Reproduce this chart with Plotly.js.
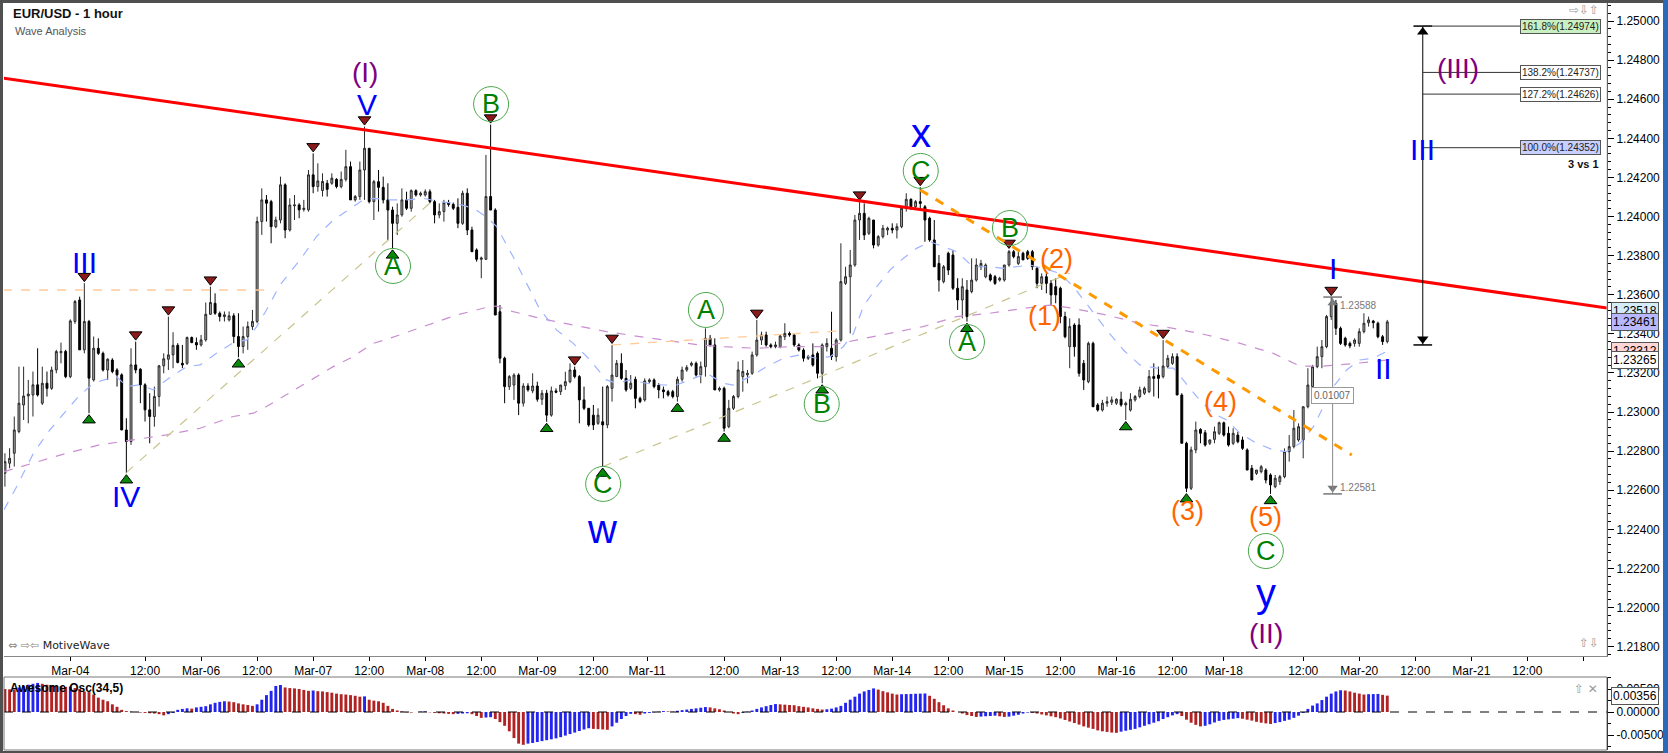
<!DOCTYPE html>
<html><head><meta charset="utf-8">
<script src="https://cdn.plot.ly/plotly-3.0.1.min.js"></script>
<style>html,body{margin:0;padding:0;background:#fff;overflow:hidden}#chart{width:1668px;height:753px}</style>
</head><body><div id="chart"></div>
<script>
// ---------------- DATA ----------------
const openP = [1.22687,1.22738,1.22789,1.22900,1.23036,1.23082,1.23087,1.23139,1.23045,1.23147,
1.23121,1.23215,1.23303,1.23310,1.23181,1.23463,1.23573,1.23318,1.23463,1.23164,
1.23326,1.23300,1.23215,1.23266,1.23215,1.23190,1.22908,1.22849,1.23241,1.23219,
1.23139,1.23011,1.22977,1.23079,1.23236,1.23270,1.23292,1.23341,1.23249,1.23249,
1.23381,1.23355,1.23343,1.23369,1.23500,1.23556,1.23505,1.23488,1.23471,1.23492,
1.23386,1.23335,1.23386,1.23437,1.23463,1.23974,1.24085,1.24076,1.23948,1.23982,
1.24162,1.23931,1.24055,1.24059,1.24036,1.24034,1.24213,1.24153,1.24133,1.24170,
1.24170,1.24190,1.24153,1.24190,1.24255,1.24085,1.24102,1.24238,1.24349,1.24076,
1.24178,1.24149,1.24085,1.24033,1.23965,1.24008,1.24085,1.24042,1.24132,1.24110,
1.24110,1.24127,1.24076,1.24008,1.24025,1.24071,1.24062,1.24047,1.23965,1.24119,
1.23931,1.23829,1.23781,1.23781,1.24102,1.24033,1.23513,1.23275,1.23130,1.23138,
1.23189,1.23045,1.23133,1.23108,1.23133,1.23065,1.23096,1.22984,1.23108,1.23104,
1.23135,1.23155,1.23215,1.23181,1.23062,1.23019,1.22984,1.22942,1.22950,1.22934,
1.23121,1.23181,1.23249,1.23172,1.23121,1.23167,1.23070,1.23062,1.23155,1.23164,
1.23138,1.23113,1.23104,1.23104,1.23079,1.23167,1.23215,1.23240,1.23249,1.23190,
1.23232,1.23377,1.23343,1.23113,1.23121,1.22925,1.23019,1.23079,1.23181,1.23190,
1.23198,1.23292,1.23368,1.23394,1.23343,1.23334,1.23334,1.23385,1.23402,1.23394,
1.23343,1.23317,1.23275,1.23292,1.23300,1.23198,1.23334,1.23326,1.23283,1.23368,
1.23658,1.23692,1.23752,1.23982,1.24016,1.23914,1.23982,1.23854,1.23897,1.23931,
1.23940,1.23931,1.23948,1.24042,1.24088,1.24050,1.24076,1.24050,1.23991,1.23880,
1.23760,1.23667,1.23812,1.23803,1.23633,1.23573,1.23624,1.23616,1.23675,1.23743,
1.23692,1.23701,1.23692,1.23675,1.23675,1.23752,1.23820,1.23760,1.23812,1.23820,
1.23820,1.23735,1.23658,1.23692,1.23658,1.23641,1.23633,1.23488,1.23334,1.23445,
1.23445,1.23249,1.23155,1.23351,1.23036,1.23010,1.23045,1.23050,1.23045,1.23065,
1.23036,1.23010,1.23062,1.23079,1.23096,1.23104,1.23181,1.23189,1.23181,1.23232,
1.23249,1.23283,1.23087,1.22840,1.22610,1.22806,1.22911,1.22894,1.22840,1.22860,
1.22891,1.22945,1.22891,1.22840,1.22882,1.22857,1.22806,1.22712,1.22686,1.22695,
1.22703,1.22678,1.22618,1.22644,1.22669,1.22797,1.22823,1.22857,1.22857,1.23027,
1.23130,1.23232,1.23283,1.23334,1.23488,1.23556,1.23428,1.23377,1.23351,1.23351,
1.23351,1.23411,1.23457,1.23465,1.23454,1.23385,1.23360];
const highP = [1.22789,1.22815,1.22977,1.23232,1.23232,1.23164,1.23207,1.23326,1.23232,1.23207,
1.23232,1.23318,1.23355,1.23318,1.23474,1.23573,1.23590,1.23659,1.23471,1.23386,
1.23377,1.23309,1.23275,1.23275,1.23224,1.23198,1.22968,1.23326,1.23360,1.23224,
1.23147,1.23096,1.23130,1.23241,1.23300,1.23488,1.23408,1.23352,1.23343,1.23386,
1.23386,1.23381,1.23394,1.23560,1.23641,1.23607,1.23514,1.23514,1.23514,1.23505,
1.23505,1.23437,1.23463,1.23522,1.23999,1.24144,1.24110,1.24085,1.23999,1.24204,
1.24170,1.24093,1.24110,1.24068,1.24085,1.24238,1.24323,1.24272,1.24221,1.24187,
1.24221,1.24196,1.24230,1.24341,1.24281,1.24110,1.24281,1.24460,1.24349,1.24187,
1.24238,1.24204,1.24170,1.24050,1.24067,1.24144,1.24127,1.24139,1.24139,1.24127,
1.24139,1.24139,1.24085,1.24067,1.24085,1.24085,1.24071,1.24093,1.24132,1.24144,
1.23948,1.23837,1.23795,1.24315,1.24470,1.24042,1.23547,1.23283,1.23189,1.23198,
1.23198,1.23147,1.23147,1.23198,1.23155,1.23113,1.23113,1.23130,1.23121,1.23138,
1.23206,1.23249,1.23232,1.23189,1.23130,1.23019,1.23036,1.23019,1.23130,1.23138,
1.23343,1.23266,1.23300,1.23215,1.23189,1.23181,1.23079,1.23172,1.23172,1.23172,
1.23147,1.23130,1.23113,1.23113,1.23181,1.23232,1.23240,1.23258,1.23258,1.23258,
1.23428,1.23394,1.23377,1.23130,1.23130,1.23062,1.23087,1.23258,1.23266,1.23215,
1.23309,1.23471,1.23411,1.23411,1.23351,1.23360,1.23394,1.23454,1.23411,1.23402,
1.23351,1.23326,1.23292,1.23351,1.23309,1.23351,1.23377,1.23513,1.23377,1.23863,
1.23743,1.23829,1.24008,1.24076,1.24067,1.23999,1.23982,1.23905,1.23957,1.23948,
1.23965,1.23965,1.24050,1.24119,1.24093,1.24084,1.24150,1.24059,1.23999,1.23982,
1.23803,1.23752,1.23820,1.23829,1.23684,1.23684,1.23675,1.23786,1.23786,1.23778,
1.23760,1.23709,1.23701,1.23692,1.23752,1.23829,1.23829,1.23820,1.23820,1.23829,
1.23829,1.23743,1.23709,1.23709,1.23675,1.23684,1.23641,1.23513,1.23479,1.23454,
1.23479,1.23266,1.23360,1.23360,1.23045,1.23062,1.23079,1.23079,1.23070,1.23104,
1.23053,1.23096,1.23087,1.23130,1.23130,1.23215,1.23249,1.23232,1.23368,1.23292,
1.23300,1.23300,1.23096,1.22848,1.22823,1.22951,1.22917,1.22908,1.22860,1.22925,
1.22951,1.22951,1.22925,1.22917,1.22899,1.22874,1.22814,1.22729,1.22703,1.22729,
1.22712,1.22686,1.22678,1.22678,1.22814,1.22882,1.23010,1.22942,1.23027,1.23224,
1.23241,1.23334,1.23368,1.23496,1.23588,1.23573,1.23437,1.23385,1.23360,1.23377,
1.23428,1.23505,1.23488,1.23471,1.23462,1.23394,1.23471];
const lowP = [1.22618,1.22712,1.22721,1.22891,1.22959,1.22942,1.22977,1.23079,1.23036,1.23079,
1.23113,1.23198,1.23249,1.23173,1.23173,1.23451,1.23318,1.23300,1.22994,1.23156,
1.23292,1.23207,1.23164,1.23198,1.23130,1.22908,1.22687,1.22832,1.23198,1.23045,
1.22951,1.22840,1.22925,1.23028,1.23198,1.23215,1.23224,1.23249,1.23224,1.23241,
1.23352,1.23318,1.23335,1.23360,1.23497,1.23497,1.23463,1.23463,1.23463,1.23352,
1.23280,1.23300,1.23318,1.23420,1.23454,1.23906,1.23974,1.23863,1.23940,1.23965,
1.23889,1.23923,1.23982,1.23991,1.24025,1.24025,1.24119,1.24127,1.24102,1.24102,
1.24162,1.24144,1.24144,1.24179,1.24085,1.24076,1.24085,1.24085,1.24067,1.23982,
1.24025,1.24067,1.23880,1.23837,1.23905,1.23999,1.24033,1.24025,1.24102,1.24102,
1.24102,1.24067,1.23965,1.23991,1.23974,1.24050,1.24033,1.23940,1.23957,1.23905,
1.23820,1.23769,1.23684,1.23778,1.24033,1.23496,1.23249,1.23045,1.23113,1.23062,
1.22984,1.23028,1.23104,1.23096,1.23053,1.23036,1.22950,1.22976,1.23096,1.23087,
1.23113,1.23147,1.23172,1.22942,1.23010,1.22925,1.22908,1.22934,1.22721,1.22917,
1.23053,1.23181,1.23164,1.23104,1.23113,1.23019,1.23045,1.23053,1.23147,1.23121,
1.23070,1.23070,1.23079,1.23070,1.23053,1.23155,1.23206,1.23232,1.23181,1.23147,
1.23181,1.23334,1.23113,1.23104,1.22900,1.22917,1.23010,1.23070,1.23104,1.23147,
1.23190,1.23283,1.23343,1.23334,1.23326,1.23326,1.23326,1.23368,1.23385,1.23334,
1.23309,1.23258,1.23266,1.23232,1.23172,1.23147,1.23309,1.23266,1.23258,1.23360,
1.23650,1.23402,1.23743,1.23880,1.23880,1.23905,1.23837,1.23846,1.23888,1.23905,
1.23914,1.23888,1.23940,1.24025,1.24033,1.24033,1.24033,1.23871,1.23871,1.23743,
1.23616,1.23658,1.23701,1.23624,1.23522,1.23479,1.23462,1.23607,1.23667,1.23726,
1.23684,1.23667,1.23650,1.23667,1.23667,1.23743,1.23786,1.23752,1.23778,1.23778,
1.23726,1.23633,1.23624,1.23607,1.23547,1.23556,1.23454,1.23377,1.23224,1.23283,
1.23181,1.23113,1.23147,1.23027,1.23002,1.23002,1.23027,1.23036,1.23036,1.23027,
1.22959,1.23002,1.23053,1.23070,1.23087,1.23096,1.23079,1.23070,1.23172,1.23224,
1.23241,1.23087,1.22840,1.22590,1.22601,1.22789,1.22840,1.22823,1.22831,1.22840,
1.22882,1.22874,1.22823,1.22831,1.22840,1.22806,1.22703,1.22652,1.22678,1.22686,
1.22635,1.22581,1.22610,1.22627,1.22661,1.22746,1.22814,1.22848,1.22763,1.23019,
1.23121,1.23224,1.23224,1.23326,1.23471,1.23394,1.23343,1.23334,1.23326,1.23334,
1.23334,1.23402,1.23437,1.23428,1.23377,1.23343,1.23351];
const closeP = [1.22746,1.22763,1.22908,1.23045,1.23082,1.23092,1.23139,1.23087,1.23147,1.23121,
1.23215,1.23309,1.23310,1.23181,1.23466,1.23565,1.23318,1.23463,1.23173,1.23326,
1.23300,1.23215,1.23270,1.23207,1.23190,1.22908,1.22849,1.23241,1.23215,1.23139,
1.23011,1.22977,1.23079,1.23236,1.23272,1.23292,1.23341,1.23253,1.23241,1.23381,
1.23355,1.23343,1.23369,1.23500,1.23560,1.23505,1.23488,1.23497,1.23492,1.23386,
1.23335,1.23386,1.23437,1.23463,1.23974,1.24085,1.24068,1.23948,1.23982,1.24162,
1.23931,1.24059,1.24059,1.24034,1.24042,1.24213,1.24153,1.24182,1.24179,1.24139,
1.24196,1.24153,1.24190,1.24255,1.24085,1.24102,1.24238,1.24349,1.24076,1.24178,
1.24149,1.24085,1.24033,1.23965,1.24008,1.24085,1.24042,1.24132,1.24110,1.24119,
1.24127,1.24076,1.24008,1.24025,1.24071,1.24062,1.24042,1.23965,1.24119,1.23931,
1.23820,1.23781,1.23788,1.24102,1.24033,1.23496,1.23275,1.23130,1.23181,1.23189,
1.23045,1.23133,1.23113,1.23133,1.23065,1.23096,1.22984,1.23108,1.23101,1.23138,
1.23155,1.23215,1.23181,1.23062,1.23019,1.22934,1.22934,1.22984,1.22934,1.23130,
1.23189,1.23249,1.23172,1.23113,1.23147,1.23070,1.23053,1.23159,1.23164,1.23130,
1.23113,1.23104,1.23087,1.23079,1.23167,1.23215,1.23228,1.23249,1.23189,1.23232,
1.23377,1.23343,1.23113,1.23121,1.22917,1.23019,1.23079,1.23215,1.23207,1.23198,
1.23292,1.23368,1.23394,1.23343,1.23334,1.23343,1.23389,1.23402,1.23394,1.23343,
1.23317,1.23275,1.23283,1.23240,1.23198,1.23343,1.23351,1.23283,1.23368,1.23667,
1.23692,1.23752,1.23982,1.24016,1.23905,1.23991,1.23854,1.23897,1.23940,1.23940,
1.23931,1.23948,1.24042,1.24088,1.24050,1.24076,1.24067,1.23982,1.23880,1.23743,
1.23675,1.23743,1.23726,1.23633,1.23573,1.23641,1.23488,1.23675,1.23752,1.23760,
1.23752,1.23675,1.23658,1.23684,1.23752,1.23820,1.23795,1.23795,1.23778,1.23786,
1.23743,1.23658,1.23692,1.23658,1.23599,1.23599,1.23488,1.23385,1.23437,1.23334,
1.23198,1.23164,1.23351,1.23027,1.23010,1.23045,1.23053,1.23062,1.23065,1.23036,
1.23045,1.23065,1.23079,1.23113,1.23121,1.23181,1.23172,1.23172,1.23235,1.23275,
1.23283,1.23087,1.22840,1.22610,1.22806,1.22908,1.22891,1.22831,1.22857,1.22899,
1.22945,1.22882,1.22831,1.22891,1.22848,1.22814,1.22703,1.22652,1.22703,1.22720,
1.22652,1.22627,1.22661,1.22669,1.22797,1.22823,1.22917,1.22925,1.23027,1.23138,
1.23232,1.23283,1.23334,1.23488,1.23556,1.23428,1.23351,1.23343,1.23338,1.23368,
1.23411,1.23454,1.23471,1.23457,1.23385,1.23360,1.23461];

// Awesome oscillator (34,5)
const aoValues = [0.00500,0.00493,0.00487,0.00533,0.00567,0.00593,0.00613,0.00633,0.00613,0.00593,
0.00587,0.00573,0.00560,0.00547,0.00553,0.00520,0.00500,0.00447,0.00433,0.00380,
0.00313,0.00267,0.00233,0.00167,0.00113,0.00047,0.00020,0.00007,0.00000,-0.00013,
-0.00020,-0.00027,-0.00033,-0.00047,-0.00073,-0.00047,-0.00020,0.00047,0.00067,0.00080,
0.00073,0.00100,0.00113,0.00127,0.00167,0.00200,0.00220,0.00233,0.00227,0.00213,
0.00187,0.00167,0.00153,0.00133,0.00167,0.00267,0.00367,0.00460,0.00567,0.00587,
0.00533,0.00520,0.00513,0.00500,0.00480,0.00460,0.00467,0.00453,0.00447,0.00433,
0.00420,0.00400,0.00387,0.00380,0.00367,0.00353,0.00333,0.00340,0.00267,0.00247,
0.00233,0.00200,0.00133,0.00067,0.00033,0.00013,-0.00007,-0.00013,0.00000,0.00007,
0.00013,-0.00007,-0.00020,-0.00027,-0.00033,-0.00040,-0.00047,-0.00040,-0.00033,-0.00027,
-0.00047,-0.00087,-0.00127,-0.00120,-0.00113,-0.00153,-0.00220,-0.00300,-0.00420,-0.00567,
-0.00687,-0.00713,-0.00687,-0.00673,-0.00653,-0.00633,-0.00613,-0.00593,-0.00573,-0.00547,
-0.00513,-0.00480,-0.00447,-0.00413,-0.00380,-0.00353,-0.00367,-0.00373,-0.00380,-0.00387,
-0.00313,-0.00233,-0.00153,-0.00087,-0.00040,-0.00047,-0.00060,-0.00033,-0.00020,-0.00007,
0.00007,0.00020,0.00013,0.00007,0.00027,0.00040,0.00053,0.00067,0.00080,0.00093,
0.00107,0.00100,0.00080,0.00060,0.00033,0.00000,-0.00033,-0.00047,-0.00020,0.00007,
0.00033,0.00067,0.00100,0.00127,0.00153,0.00173,0.00167,0.00160,0.00153,0.00147,
0.00127,0.00113,0.00100,0.00080,0.00067,0.00053,0.00060,0.00073,0.00100,0.00133,
0.00200,0.00267,0.00333,0.00400,0.00447,0.00480,0.00513,0.00487,0.00453,0.00427,
0.00400,0.00380,0.00387,0.00390,0.00393,0.00397,0.00400,0.00403,0.00353,0.00287,
0.00213,0.00147,0.00080,0.00033,0.00000,-0.00033,-0.00067,-0.00087,-0.00107,-0.00100,
-0.00093,-0.00087,-0.00080,-0.00093,-0.00107,-0.00100,-0.00080,-0.00060,-0.00033,-0.00013,
-0.00020,-0.00033,-0.00053,-0.00073,-0.00093,-0.00113,-0.00140,-0.00173,-0.00207,-0.00240,
-0.00273,-0.00313,-0.00340,-0.00367,-0.00400,-0.00420,-0.00433,-0.00447,-0.00453,-0.00427,
-0.00407,-0.00387,-0.00367,-0.00333,-0.00300,-0.00267,-0.00233,-0.00200,-0.00153,-0.00113,
-0.00073,-0.00047,-0.00087,-0.00167,-0.00233,-0.00280,-0.00313,-0.00300,-0.00267,-0.00227,
-0.00193,-0.00173,-0.00160,-0.00147,-0.00133,-0.00147,-0.00167,-0.00187,-0.00213,-0.00233,
-0.00247,-0.00260,-0.00240,-0.00220,-0.00193,-0.00167,-0.00127,-0.00080,-0.00020,0.00067,
0.00140,0.00187,0.00260,0.00333,0.00400,0.00447,0.00473,0.00467,0.00447,0.00420,
0.00400,0.00380,0.00387,0.00390,0.00393,0.00373,0.00356];

// moving averages (bar position, value)
const maFastBar = [-0.2,2.5,6.1,9.6,15.4,18.9,22.5,23.9,26.1,28.9,31.8,34.6,38.9,41.8,45.3,48.9,51.8,53.9,56.0,58.9,63.2,66.7,70.3,73.9,76.7,78.9,82.4,86.0,89.6,93.1,96.7,100.3,103.1,105.3,108.8,111.7,114.6,118.1,121.7,125.3,128.8,131.0,133.8,137.4,141.0,143.8,146.7,150.3,153.8,156.0,159.5,163.1,166.7,170.2,173.8,176.7,179.5,181.7,183.8,186.7,189.5,192.4,195.2,198.1,200.9,203.8,207.3,210.9,213.8,216.6,219.5,222.3,225.9,228.8,232.3,235.9,239.5,243.0,246.6,250.2,252.3,255.2,258.7,261.6,264.5,268.0,271.6,274.4,277.3,280.2,282.3,284.5,287.3,290.1,292.9,295.8];
const maFastVal = [1.22500,1.22618,1.22789,1.22908,1.23070,1.23147,1.23173,1.23181,1.23130,1.23139,1.23113,1.23164,1.23232,1.23241,1.23300,1.23355,1.23369,1.23437,1.23522,1.23650,1.23778,1.23897,1.23982,1.24040,1.24085,1.24093,1.24085,1.24085,1.24093,1.24076,1.24067,1.24042,1.23999,1.23948,1.23795,1.23658,1.23522,1.23420,1.23351,1.23266,1.23164,1.23147,1.23164,1.23147,1.23138,1.23138,1.23164,1.23198,1.23147,1.23138,1.23181,1.23232,1.23275,1.23292,1.23275,1.23283,1.23334,1.23402,1.23539,1.23641,1.23726,1.23786,1.23837,1.23871,1.23846,1.23820,1.23743,1.23743,1.23735,1.23743,1.23752,1.23735,1.23709,1.23641,1.23530,1.23420,1.23317,1.23241,1.23224,1.23224,1.23164,1.23079,1.22993,1.22959,1.22891,1.22840,1.22806,1.22797,1.22840,1.22925,1.23027,1.23130,1.23215,1.23266,1.23275,1.23309];
const maSlowBar = [-0.2,6.1,13.2,20.3,27.5,34.6,41.8,48.9,53.2,56.0,63.2,70.3,73.9,78.9,82.4,89.6,96.7,103.8,105.3,107.4,114.6,121.7,128.8,135.9,143.1,148.8,153.8,160.9,168.0,175.2,182.3,189.5,196.6,203.8,210.9,218.1,223.8,228.8,235.9,243.0,250.2,257.3,264.5,271.6,277.3,282.3,289.4,295.8];
const maSlowVal = [1.22695,1.22738,1.22789,1.22832,1.22857,1.22883,1.22917,1.22977,1.22994,1.23028,1.23130,1.23232,1.23275,1.23351,1.23377,1.23437,1.23496,1.23539,1.23542,1.23522,1.23479,1.23445,1.23411,1.23386,1.23360,1.23343,1.23334,1.23326,1.23334,1.23334,1.23368,1.23402,1.23437,1.23488,1.23505,1.23530,1.23547,1.23530,1.23496,1.23454,1.23428,1.23394,1.23351,1.23300,1.23235,1.23235,1.23249,1.23266];

// time axis
const tickBars = [14,30,42,54,66,78,90,102,114,126,137.5,154,166,178,190,202,214,226,238,250,261,278,290,302,314,326,338];
const tickLabels = ['Mar-04','12:00','Mar-06','12:00','Mar-07','12:00','Mar-08','12:00','Mar-09','12:00','Mar-11','12:00','Mar-13','12:00','Mar-14','12:00','Mar-15','12:00','Mar-16','12:00','Mar-18','12:00','Mar-20','12:00','Mar-21','12:00',' '];

// swing markers (bar numbers)
const swingHighBars = [17,28,35,44,66,77,104,122,130,161,183,196,215,248,284];
const swingLowBars = [18,26,50,83,116,128,144,154,175,206,240,253,271];

// drawn lines (bar, price)
const redTrend = {bar:[-0.4,343.05], price:[1.24708,1.23532]};
const orangeTrend = {bar:[196,288.4], price:[1.24136,1.22780]};
const tanLine1 = {bar:[26,92], price:[1.2269,1.2409]};
const tanLine2 = {bar:[128,228], price:[1.2272,1.2371]};
const levelLine1 = {bar:[-0.4,57], price:[1.23624,1.23624]};
const levelLine2 = {bar:[130,178], price:[1.23343,1.23414]};

// fibonacci projection
const fibBar = 303.6, fibBase = 1.23343;
const fibLevels = [1.24974,1.24737,1.24626,1.24352];
const fibTexts = ['161.8%(1.24974)','138.2%(1.24737)','127.2%(1.24626)','100.0%(1.24352)'];
// measure tool
const measureBar = 284.3, measureHigh = 1.23588, measureLow = 1.22581, measureDiff = '0.01007';

// wave labels
const waveLabels = [
 ['(I)',77.1,1.24739,'p'],['V',77.5,1.24575,'b'],['III',17.1,1.23767,'b'],['IV',25.9,1.22570,'b'],
 ['w',127.8,1.22402,'bl'],['x',196.1,1.24427,'bl'],['y',270.0,1.22074,'bl'],['(II)',270.0,1.21865,'p'],
 ['I',284.4,1.23735,'b'],['II',295.1,1.23225,'b'],['III',303.6,1.24345,'b'],['(III)',311.1,1.24755,'p'],
 ['(1)',222.7,1.23491,'o'],['(2)',225.1,1.23783,'o'],['(3)',253.3,1.22494,'o'],['(4)',260.2,1.23051,'o'],['(5)',270.0,1.22463,'o']
];
const circledLabels = [
 ['A',83.1,1.23747],['B',104.1,1.24575],['C',128.1,1.22632],['A',150.1,1.23522],['B',174.9,1.23041],
 ['C',196.1,1.24233],['A',206.0,1.23358],['B',215.2,1.23941],['C',270.0,1.22289]
];

// ---------------- LAYOUT HELPERS ----------------
const W = 1668, H = 753;
const M = {l:4, r:61, t:3, b:3};
const PW = W - M.l - M.r, PH = H - M.t - M.b;
const px = X => (X - M.l) / PW;
const py = Y => (H - M.b - Y) / PH;
const yMin = 1.217519, yMax = 1.250921;
const mainTopPx = 3, mainBotPx = 656;
const perPx = (yMax - yMin) / (mainBotPx - mainTopPx);
const bars = openP.map((_, k) => k);
const FONT = 'Liberation Sans, Arial, sans-serif';
const COL = {b:'#0000ff', bl:'#0000ff', p:'#800080', o:'#ff6600'};
const SIZE = {b:30, bl:40, p:28, o:27};

const traces = [];
traces.push({type:'scatter', mode:'lines', x:maSlowBar, y:maSlowVal, line:{color:'#c98fd0', width:1.2, dash:'dash'}, hoverinfo:'skip', showlegend:false});
traces.push({type:'scatter', mode:'lines', x:maFastBar, y:maFastVal, line:{color:'#9fb4ff', width:1.2, dash:'dash'}, hoverinfo:'skip', showlegend:false});
traces.push({type:'candlestick', x:bars, open:openP, high:highP, low:lowP, close:closeP,
  increasing:{line:{color:'#2a2a2a', width:1}, fillcolor:'#a6a6a6'},
  decreasing:{line:{color:'#000000', width:1}, fillcolor:'#000000'},
  whiskerwidth:0, hoverinfo:'skip', showlegend:false});
traces.push({type:'scatter', mode:'markers', x:swingHighBars, y:swingHighBars.map(b => highP[b] + 7*perPx),
  marker:{symbol:'triangle-down', size:11, color:'#8b1a1a', line:{color:'#000', width:1}}, hoverinfo:'skip', showlegend:false});
traces.push({type:'scatter', mode:'markers', x:swingLowBars, y:swingLowBars.map(b => lowP[b] - 7*perPx),
  marker:{symbol:'triangle-up', size:11, color:'#0a8a0a', line:{color:'#000', width:1}}, hoverinfo:'skip', showlegend:false});
// arrowheads of fib and measure tool
traces.push({type:'scatter', mode:'markers', x:[fibBar, fibBar], y:[fibBase + 6*perPx, fibLevels[0] - 6*perPx],
  marker:{symbol:['triangle-down','triangle-up'], size:10, color:'#000'}, hoverinfo:'skip', showlegend:false});
traces.push({type:'scatter', mode:'markers', x:[measureBar, measureBar], y:[measureHigh - 6*perPx, measureLow + 6*perPx],
  marker:{symbol:['triangle-up','triangle-down'], size:9, color:'#777'}, hoverinfo:'skip', showlegend:false});
// AO
const aoColors = aoValues.map((v, k) => (k > 0 && v > aoValues[k-1]) ? '#2424f0' : '#b22222');
traces.push({type:'bar', x:bars, y:aoValues, xaxis:'x2', yaxis:'y2', marker:{color:aoColors, line:{width:0}}, width:0.62, hoverinfo:'skip', showlegend:false});

const shapes = [];
function seg(obj, color, width, dash){ shapes.push({type:'line', xref:'x', yref:'y', x0:obj.bar[0], x1:obj.bar[1], y0:obj.price[0], y1:obj.price[1], line:{color, width, dash:dash||'solid'}}); }
seg(levelLine1, '#ffcc99', 1.3, 'dash');
seg(levelLine2, '#ffcc99', 1.3, 'dash');
seg(tanLine1, '#c8c48c', 1.2, 'dash');
seg(tanLine2, '#c8c48c', 1.2, 'dash');
seg(redTrend, '#ff0000', 3);
seg(orangeTrend, '#ff9900', 3, 'dash');
// fib projection
seg({bar:[fibBar,fibBar], price:[fibBase, fibLevels[0]]}, '#000', 1);
seg({bar:[fibBar-2,fibBar+2], price:[fibBase, fibBase]}, '#000', 1.5);
seg({bar:[fibBar-2,fibBar+2], price:[fibLevels[0], fibLevels[0]]}, '#000', 1.5);
fibLevels.forEach(v => seg({bar:[fibBar, 324.8], price:[v, v]}, '#333', 1));
// measure
seg({bar:[measureBar,measureBar], price:[measureLow, measureHigh]}, '#888', 1);
seg({bar:[measureBar-2,measureBar+2], price:[measureHigh, measureHigh]}, '#777', 1.5);
seg({bar:[measureBar-2,measureBar+2], price:[measureLow, measureLow]}, '#777', 1.5);
// circles
circledLabels.forEach(c => shapes.push({type:'circle', xref:'x', yref:'y', xsizemode:'pixel', ysizemode:'pixel', xanchor:c[1], yanchor:c[2], x0:-17.5, x1:17.5, y0:-17.5, y1:17.5, line:{color:'#4aa84a', width:1}}));
// osc zero line
shapes.push({type:'line', xref:'paper', yref:'y2', x0:0, x1:1, y0:0, y1:0, line:{color:'#000', width:1, dash:'dash'}});
// frames
shapes.push({type:'line', xref:'paper', yref:'paper', x0:px(1607), x1:px(1607), y0:py(656), y1:py(3), line:{color:'#c8c8c8', width:1}});
shapes.push({type:'rect', xref:'paper', yref:'paper', x0:0, x1:1, y0:py(677), y1:py(750), line:{color:'#777', width:1}});
shapes.push({type:'rect', xref:'paper', yref:'paper', x0:px(0), x1:px(3), y0:py(753), y1:py(0), fillcolor:'#505050', line:{width:0}});
shapes.push({type:'rect', xref:'paper', yref:'paper', x0:px(0), x1:px(1668), y0:py(3), y1:py(0), fillcolor:'#505050', line:{width:0}});
shapes.push({type:'rect', xref:'paper', yref:'paper', x0:px(0), x1:px(1668), y0:py(753), y1:py(751), fillcolor:'#505050', line:{width:0}});
shapes.push({type:'rect', xref:'paper', yref:'paper', x0:px(1663), x1:px(1668), y0:py(753), y1:py(0), fillcolor:'#2a68b8', line:{width:0}});

const ann = [];
waveLabels.forEach(w => ann.push({xref:'x', yref:'y', x:w[1], y:w[2], text:w[0], showarrow:false, xanchor:'center', yanchor:'middle', font:{family:FONT, size:SIZE[w[3]], color:COL[w[3]]}}));
circledLabels.forEach(c => ann.push({xref:'x', yref:'y', x:c[1], y:c[2], text:c[0], showarrow:false, xanchor:'center', yanchor:'middle', font:{family:FONT, size:27, color:'#008000'}}));
const fibBg = ['#c8f0c0','#ffffff','#ffffff','#c8d0ff'];
fibTexts.forEach((t, k) => ann.push({xref:'x', yref:'y', x:341.8, y:fibLevels[k], text:t, showarrow:false, xanchor:'right', yanchor:'middle', bgcolor:fibBg[k], bordercolor:'#555', borderwidth:1, borderpad:1, font:{family:FONT, size:10, color:'#222'}}));
ann.push({xref:'x', yref:'y', x:341.8, y:1.24269, text:'<b>3 vs 1</b>', showarrow:false, xanchor:'right', yanchor:'middle', font:{family:FONT, size:11, color:'#111'}});
ann.push({xref:'x', yref:'y', x:285.4, y:1.23547, text:'1.23588', showarrow:false, xanchor:'left', yanchor:'middle', font:{family:FONT, size:10, color:'#777'}});
ann.push({xref:'x', yref:'y', x:285.4, y:1.22616, text:'1.22581', showarrow:false, xanchor:'left', yanchor:'middle', font:{family:FONT, size:10, color:'#777'}});
ann.push({xref:'x', yref:'y', x:measureBar, y:1.23082, text:measureDiff, showarrow:false, xanchor:'center', yanchor:'middle', bgcolor:'#ffffff', bordercolor:'#999', borderwidth:1, borderpad:2, font:{family:FONT, size:10, color:'#666'}});
// title
ann.push({xref:'paper', yref:'paper', x:px(11), y:py(13), text:'<b>EUR/USD - 1 hour</b>', showarrow:false, xanchor:'left', yanchor:'middle', font:{family:FONT, size:13, color:'#111'}});
ann.push({xref:'paper', yref:'paper', x:px(13), y:py(31), text:'Wave Analysis', showarrow:false, xanchor:'left', yanchor:'middle', font:{family:FONT, size:11, color:'#555'}});
ann.push({xref:'paper', yref:'paper', x:px(6), y:py(645), text:'<span style="color:#888">⇔ ⇨⇦</span> MotiveWave', showarrow:false, xanchor:'left', yanchor:'middle', font:{family:'DejaVu Sans, sans-serif', size:11, color:'#222'}});
ann.push({xref:'paper', yref:'paper', x:px(1601), y:py(10), text:'⇨⇩⇧', showarrow:false, xanchor:'right', yanchor:'middle', font:{family:'DejaVu Sans, sans-serif', size:12, color:'#999'}});
ann.push({xref:'paper', yref:'paper', x:px(1601), y:py(643), text:'⇧⇩', showarrow:false, xanchor:'right', yanchor:'middle', font:{family:'DejaVu Sans, sans-serif', size:12, color:'#999'}});
ann.push({xref:'paper', yref:'paper', x:px(1600), y:py(689), text:'⇧ ✕', showarrow:false, xanchor:'right', yanchor:'middle', font:{family:'DejaVu Sans, sans-serif', size:12, color:'#999'}});
ann.push({xref:'paper', yref:'paper', x:px(8), y:py(688), text:'<b>Awesome Osc(34,5)</b>', showarrow:false, xanchor:'left', yanchor:'middle', font:{family:FONT, size:12, color:'#000'}});
// price boxes
function pbox(v, txt, bg, yr){ ann.push({xref:'paper', yref:yr||'y', x:px(1611), y:v, text:txt, showarrow:false, xanchor:'left', yanchor:'middle', bgcolor:bg, bordercolor:'#555', borderwidth:1, borderpad:1, font:{family:FONT, size:12, color:'#000'}}); }
pbox(1.23518, '1.23518', '#d4ecf7');
pbox(1.23461, '1.23461', '#b8b8ff');
pbox(1.23312, '1.23312', '#ffd6d6');
pbox(1.23265, '1.23265', '#ffffff');
pbox(0.00356, '0.00356', '#ffffff', 'y2');

const layout = {
  width:W, height:H, margin:{l:M.l, r:M.r, t:M.t, b:M.b},
  paper_bgcolor:'#ffffff', plot_bgcolor:'#ffffff', showlegend:false,
  font:{family:FONT, size:12, color:'#000'},
  boxgap:0.42,
  xaxis:{domain:[0,1], anchor:'y', range:[-0.2,343.05], tickvals:tickBars, ticktext:tickLabels, ticks:'outside', ticklen:4, tickcolor:'#000',
    showline:true, linecolor:'#888', linewidth:1, showgrid:false, zeroline:false, rangeslider:{visible:false}, tickfont:{size:12, color:'#000'}, automargin:false, fixedrange:true},
  yaxis:{domain:[py(mainBotPx),1], range:[yMin,yMax], side:'right', tick0:1.218, dtick:0.002, tickformat:'.5f', ticks:'outside', ticklen:6, tickcolor:'#000',
    minor:{dtick:0.0004, ticks:'outside', ticklen:3, tickcolor:'#000'},
    showline:true, linecolor:'#000', linewidth:1, showgrid:false, zeroline:false, tickfont:{size:12, color:'#000'}, automargin:false, fixedrange:true},
  xaxis2:{domain:[0,1], anchor:'y2', matches:'x', showticklabels:false, ticks:'', showline:false, showgrid:false, zeroline:false, automargin:false},
  yaxis2:{domain:[0,py(677)], anchor:'x2', range:[-0.00826,0.00761], side:'right', tickvals:[-0.005,0,0.005], ticktext:['-0.00500','0.00000','0.00500'],
    ticks:'outside', ticklen:6, tickcolor:'#000', minor:{dtick:0.0025, ticks:'outside', ticklen:3, tickcolor:'#000'},
    showline:true, linecolor:'#000', linewidth:1, showgrid:false, zeroline:false, tickfont:{size:12, color:'#000'}, automargin:false, fixedrange:true},
  shapes:shapes, annotations:ann
};
Plotly.newPlot('chart', traces, layout, {staticPlot:true, displayModeBar:false});
</script>
</body></html>
